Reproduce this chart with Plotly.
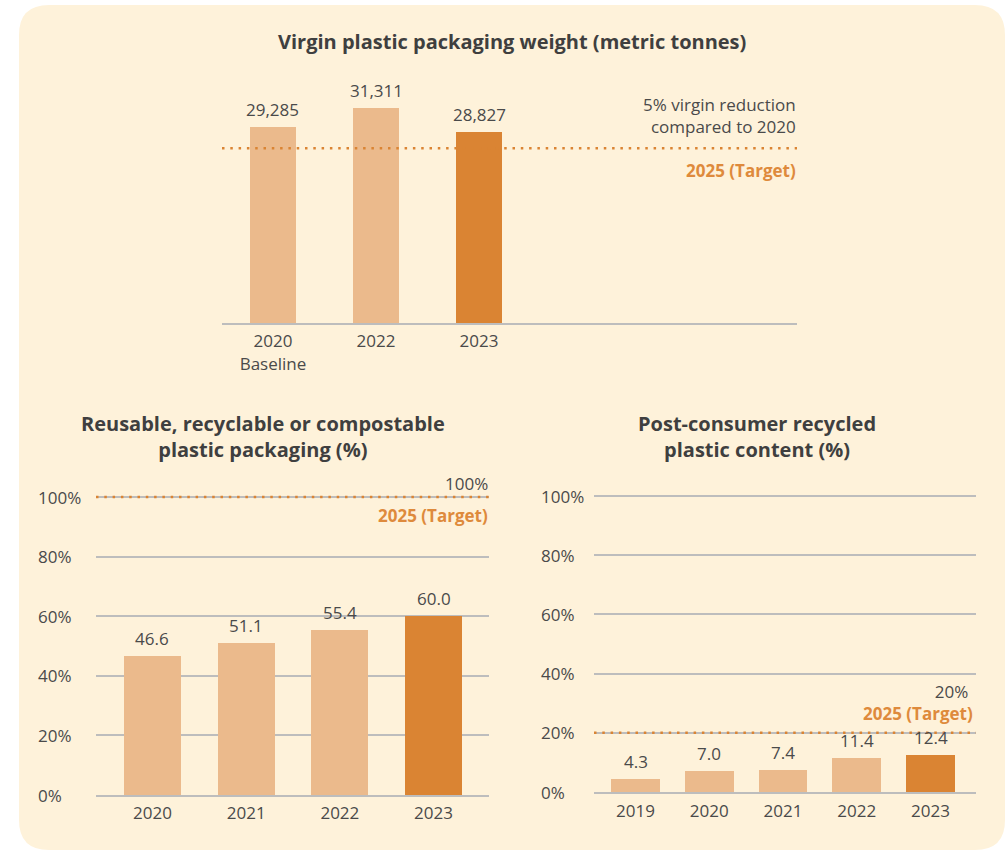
import plotly.graph_objects as go

W, H = 1007, 851

# ---- data ----
virgin_years = ["2020<br>Baseline", "2022", "2023"]
virgin_tonnes = [29285, 31311, 28827]
virgin_target = 27100

reusable_years = ["2020", "2021", "2022", "2023"]
reusable_pct = [46.6, 51.1, 55.4, 60.0]
reusable_target = 100

pcr_years = ["2019", "2020", "2021", "2022", "2023"]
pcr_pct = [4.3, 7.0, 7.4, 11.4, 12.4]
pcr_target = 20

pct_ticks = [0, 20, 40, 60, 80, 100]
pct_tick_labels = ["0%", "20%", "40%", "60%", "80%", "100%"]

# ---- styling ----
FONT = "Open Sans"
FS = 17
BG = "#FEF2DA"
LIGHT = "#EBBA8C"
DARK = "#DA8433"
TEXT = "#4A4A4A"
ORANGE_TXT = "#DE8A3C"
GRID = "#BDBDBD"
DOTS = "#DA8433"


def px(x):
    return x / W


def py(y):
    return 1 - y / H


def colors(n):
    return [LIGHT] * (n - 1) + [DARK]


fig = go.Figure()

# bars
fig.add_trace(go.Bar(x=list(range(len(virgin_tonnes))), y=virgin_tonnes,
                     marker=dict(color=colors(len(virgin_tonnes)), line_width=0),
                     width=0.447, xaxis="x", yaxis="y", hoverinfo="skip"))
fig.add_trace(go.Bar(x=list(range(len(reusable_pct))), y=reusable_pct,
                     marker=dict(color=colors(len(reusable_pct)), line_width=0),
                     width=0.608, xaxis="x2", yaxis="y2", hoverinfo="skip"))
fig.add_trace(go.Bar(x=list(range(len(pcr_pct))), y=pcr_pct,
                     marker=dict(color=colors(len(pcr_pct)), line_width=0),
                     width=0.664, xaxis="x3", yaxis="y3", hoverinfo="skip"))

tickfont = dict(family=FONT, size=FS, color=TEXT)

layout_axes = dict(
    xaxis=dict(domain=[px(222), px(797)], range=[-0.495, 5.087],
               tickvals=list(range(len(virgin_years))), ticktext=virgin_years,
               showline=True, linecolor=GRID, linewidth=2, showgrid=False,
               zeroline=False, ticks="", tickfont=tickfont, fixedrange=True,
               ticklabelstandoff=2),
    yaxis=dict(domain=[py(323), py(95)], range=[8900, 32660], visible=False,
               fixedrange=True),
    xaxis2=dict(domain=[px(96), px(489)], range=[-0.603, 3.592],
                tickvals=list(range(len(reusable_years))), ticktext=reusable_years,
                showline=True, linecolor=GRID, linewidth=2, showgrid=False,
                zeroline=False, ticks="", tickfont=tickfont, anchor="y2",
                fixedrange=True, ticklabelstandoff=2),
    yaxis2=dict(domain=[py(795), py(794 - 101 * 2.97)], range=[0, 101],
                tickvals=pct_ticks[1:], showticklabels=False, showgrid=True,
                gridcolor=GRID, gridwidth=1.5, zeroline=False, showline=False,
                anchor="x2", fixedrange=True),
    xaxis3=dict(domain=[px(594), px(976)], range=[-0.563, 4.617],
                tickvals=list(range(len(pcr_years))), ticktext=pcr_years,
                showline=True, linecolor=GRID, linewidth=2, showgrid=False,
                zeroline=False, ticks="", tickfont=tickfont, anchor="y3",
                fixedrange=True, ticklabelstandoff=3),
    yaxis3=dict(domain=[py(792), py(792 - 101 * 2.96)], range=[0, 101],
                tickvals=pct_ticks[1:], showticklabels=False, showgrid=True,
                gridcolor=GRID, gridwidth=1.5, zeroline=False, showline=False,
                anchor="x3", fixedrange=True),
)

# rounded background panel
x0, x1, y0, y1, r = 19, 1005, 5, 850, 30
panel_path = (
    f"M {px(x0 + r)} {py(y0)} L {px(x1 - r)} {py(y0)} "
    f"Q {px(x1)} {py(y0)} {px(x1)} {py(y0 + r)} "
    f"L {px(x1)} {py(y1 - r)} Q {px(x1)} {py(y1)} {px(x1 - r)} {py(y1)} "
    f"L {px(x0 + r)} {py(y1)} Q {px(x0)} {py(y1)} {px(x0)} {py(y1 - r)} "
    f"L {px(x0)} {py(y0 + r)} Q {px(x0)} {py(y0)} {px(x0 + r)} {py(y0)} Z"
)
shapes = [dict(type="path", path=panel_path, xref="paper", yref="paper",
               fillcolor=BG, line_width=0, layer="below")]

# dotted target lines
dot_line = dict(color=DOTS, width=2.5, dash="2.5px,5.8px")
for xa, ya, tgt in (("x", "y", virgin_target), ("x2", "y2", reusable_target),
                    ("x3", "y3", pcr_target)):
    shapes.append(dict(type="line", xref=f"{xa} domain", x0=0, x1=1,
                       yref=ya, y0=tgt, y1=tgt, line=dot_line, layer="above"))

ann = []

# bar value labels
for xa, ya, vals, fmt in (("x", "y", virgin_tonnes, "{:,.0f}"),
                          ("x2", "y2", reusable_pct, "{:.1f}"),
                          ("x3", "y3", pcr_pct, "{:.1f}")):
    for i, v in enumerate(vals):
        ann.append(dict(x=i, y=v, xref=xa, yref=ya, text=fmt.format(v),
                        showarrow=False, yanchor="bottom", yshift=4,
                        font=dict(family=FONT, size=FS, color=TEXT)))

# left-aligned percentage tick labels
for ya, xl in (("y2", 36), ("y3", 539)):
    for v, lab in zip(pct_ticks, pct_tick_labels):
        ann.append(dict(x=px(xl), y=v, xref="paper", yref=ya, text=lab,
                        showarrow=False, xanchor="left", yanchor="middle",
                        font=dict(family=FONT, size=FS, color=TEXT)))

# chart titles
title_font = dict(family=FONT, size=20, color="#3F3F3F")
for xc, yc, txt in ((512, 42, "<b>Virgin plastic packaging weight (metric tonnes)</b>"),
                    (263, 436, "<b>Reusable, recyclable or compostable<br>plastic packaging (%)</b>"),
                    (757, 436, "<b>Post-consumer recycled<br>plastic content (%)</b>")):
    ann.append(dict(x=px(xc), y=py(yc), xref="paper", yref="paper", text=txt,
                    showarrow=False, xanchor="center", yanchor="middle",
                    align="center", font=title_font))

# target annotations
grey_font = dict(family=FONT, size=FS, color=TEXT)
orange_font = dict(family=FONT, size=FS, color=ORANGE_TXT)
target_tag = f"<b><span style='color:{ORANGE_TXT}'>2025 (Target)</span></b>"
target_notes = [
    (798, 115.5, "5% virgin reduction<br>compared to 2020", grey_font),
    (798, 170, "<b>2025 (Target)</b>", orange_font),
    (490, 483, "100%", grey_font),
    (490, 515, "<b>2025 (Target)</b>", orange_font),
    (975, 702, "20% <br>" + target_tag, grey_font),
]
for xr, yc, txt, f in target_notes:
    ann.append(dict(x=px(xr), y=py(yc), xref="paper", yref="paper", text=txt,
                    showarrow=False, xanchor="right", yanchor="middle",
                    align="right", font=f))

fig.update_layout(
    width=W, height=H,
    margin=dict(l=0, r=0, t=0, b=0),
    paper_bgcolor="white",
    plot_bgcolor="rgba(0,0,0,0)",
    showlegend=False,
    bargap=0,
    shapes=shapes,
    annotations=ann,
    font=dict(family=FONT, color=TEXT),
    **layout_axes,
)

fig.write_html("out.html", config={"displayModeBar": False})
